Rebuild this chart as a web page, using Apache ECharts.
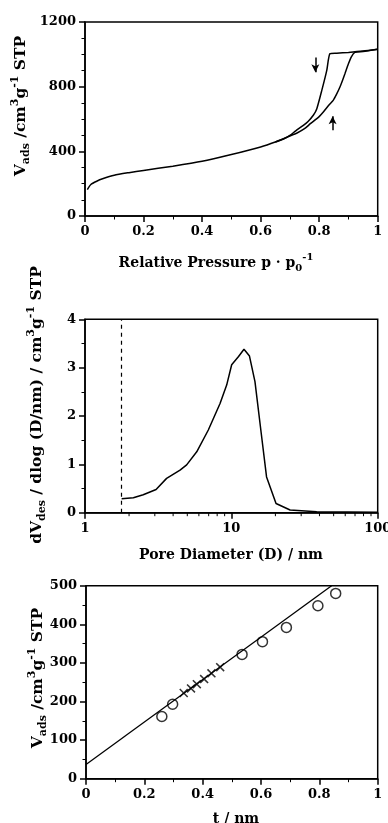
<!DOCTYPE html>
<html>
<head>
<meta charset="utf-8">
<script src="https://cdn.jsdelivr.net/npm/echarts@6/dist/echarts.min.js"></script>
<style>
html,body{margin:0;padding:0;background:#fff;}
#chart{width:388px;height:823px;}
</style>
</head>
<body>
<div id="chart"></div>
<script>
// ---- Panel 1: N2 isotherm (relative pressure, V_ads) ----
const adsP = [0.008,0.02,0.04,0.06,0.1,0.15,0.2,0.3,0.4,0.5,0.6,0.65,0.7,0.723,0.75,0.77,0.8,0.815,0.835,0.848,0.86,0.871,0.88,0.888,0.9,0.91,0.922,0.95,1.0];
const adsV = [163,195,215,230,252,268,282,308,338,380,427,458,495,512,540,571,615,645,690,715,755,798,840,880,942,985,1012,1017,1031];
const desP = [1.0,0.95,0.9,0.86,0.837,0.826,0.809,0.792,0.78,0.762,0.746,0.72,0.7,0.68,0.65];
const desV = [1031,1020,1012,1007,1004,901,777,664,623,585,561,527,499,478,458];
const arrowDown = {p:0.787, from:981, to:889};
const arrowUp = {p:0.846, from:530, to:617};
const p1XTicks = {min:0, max:1, interval:0.2};
const p1YTicks = {min:0, max:1200, interval:400};

// ---- Panel 2: pore size distribution ----
const poreD = [1.78,2.14,2.5,3.06,3.61,4.46,4.95,5.8,6.96,8.37,9.29,10.05,11.2,12.2,13.3,14.5,15.9,17.4,20.2,25.2,38.3,100];
const poreDV = [0.29,0.31,0.37,0.48,0.71,0.88,0.99,1.26,1.71,2.26,2.64,3.06,3.23,3.38,3.24,2.71,1.71,0.74,0.19,0.055,0.02,0.01];
const dashedLineD = 1.78;
const logMinorTickValues = [2,3,4,5,6,7,8,9,20,30,40,50,60,70,80,90];
const p2YTicks = {min:0, max:4, interval:1};

// ---- Panel 3: t-plot ----
const circleT = [0.26,0.297,0.535,0.605,0.687,0.795,0.856];
const circleV = [161,193,322,355,392,448,480];
const crossT = [0.335,0.36,0.38,0.405,0.43,0.46];
const crossV = [222,234,245,258,273,289];
const fitT = [0,0.842];
const fitV = [37,500];
const p3XTicks = {min:0, max:1, interval:0.2};
const p3YTicks = {min:0, max:500, interval:100};

const zip = (a,b) => a.map((v,i)=>[v,b[i]]);
const FONT = 'DejaVu Serif';
const BLACK = '#000';

function axisBase(minorSplit){
  return {
    axisLine:{show:true,onZero:false,lineStyle:{color:BLACK,width:1.5}},
    axisTick:{show:true,inside:false,length:6,lineStyle:{color:BLACK,width:1.5}},
    minorTick:{show:minorSplit>0,splitNumber:minorSplit||2,length:3.5,lineStyle:{color:BLACK,width:1}},
    splitLine:{show:false},
    minorSplitLine:{show:false},
    axisLabel:{color:BLACK,fontFamily:FONT,fontWeight:'bold',fontSize:13,margin:9,
      formatter:function(v){return String(+v.toFixed(6));}}
  };
}

const rich = {
  m:{fontFamily:FONT,fontWeight:'bold',fontSize:14,lineHeight:16,verticalAlign:'middle',color:BLACK},
  sub:{fontFamily:FONT,fontWeight:'bold',fontSize:10,lineHeight:10,padding:[10,0,0,0],verticalAlign:'middle',color:BLACK},
  sup:{fontFamily:FONT,fontWeight:'bold',fontSize:10,lineHeight:10,padding:[0,0,11,0],verticalAlign:'middle',color:BLACK},
  M:{fontFamily:FONT,fontWeight:'bold',fontSize:15.5,lineHeight:17,verticalAlign:'middle',color:BLACK},
  S:{fontFamily:FONT,fontWeight:'bold',fontSize:11,lineHeight:11,padding:[11,0,0,0],verticalAlign:'middle',color:BLACK},
  P:{fontFamily:FONT,fontWeight:'bold',fontSize:11,lineHeight:11,padding:[0,0,12,0],verticalAlign:'middle',color:BLACK}
};
function nameText(x,y,text,rot){
  return {type:'text',x:x,y:y,rotation:rot||0,z:100,
    style:{text:text,rich:rich,align:'center',verticalAlign:'middle',fill:BLACK,font:'bold 14px '+FONT}};
}

const chart = echarts.init(document.getElementById('chart'),null,{renderer:'canvas'});
const gridStyle = {show:true,borderColor:BLACK,borderWidth:1.5,backgroundColor:'transparent',containLabel:false,outerBoundsMode:'none'};
const CROSS = 'path://M0,1.2L1.2,0L5,3.8L8.8,0L10,1.2L6.2,5L10,8.8L8.8,10L5,6.2L1.2,10L0,8.8L3.8,5Z';

chart.setOption({
  animation:false,
  backgroundColor:'#fff',
  grid:[
    Object.assign({left:85,top:22,width:292.7,height:194},gridStyle),
    Object.assign({left:85,top:319.3,width:292.7,height:193.4},gridStyle),
    Object.assign({left:86,top:585.7,width:291.7,height:193},gridStyle)
  ],
  xAxis:[
    Object.assign(axisBase(2),{gridIndex:0,type:'value',min:p1XTicks.min,max:p1XTicks.max,interval:p1XTicks.interval}),
    Object.assign(axisBase(0),{gridIndex:1,type:'log',logBase:10,min:1,max:100}),
    Object.assign(axisBase(2),{gridIndex:2,type:'value',min:p3XTicks.min,max:p3XTicks.max,interval:p3XTicks.interval})
  ],
  yAxis:[
    Object.assign(axisBase(4),{gridIndex:0,type:'value',min:p1YTicks.min,max:p1YTicks.max,interval:p1YTicks.interval}),
    Object.assign(axisBase(2),{gridIndex:1,type:'value',min:p2YTicks.min,max:p2YTicks.max,interval:p2YTicks.interval}),
    Object.assign(axisBase(2),{gridIndex:2,type:'value',min:p3YTicks.min,max:p3YTicks.max,interval:p3YTicks.interval})
  ],
  series:[
    {type:'line',xAxisIndex:0,yAxisIndex:0,data:zip(adsP,adsV),showSymbol:false,symbol:'none',
     lineStyle:{color:BLACK,width:1.5},smooth:0.2},
    {type:'line',xAxisIndex:0,yAxisIndex:0,data:zip(desP,desV),showSymbol:false,symbol:'none',
     lineStyle:{color:BLACK,width:1.5},smooth:0.2,
     markLine:{silent:true,symbol:['none','arrow'],symbolSize:[6,8],animation:false,
       lineStyle:{color:BLACK,width:1.5,type:'solid'},label:{show:false},
       data:[
         [{coord:[arrowDown.p,arrowDown.from]},{coord:[arrowDown.p,arrowDown.to]}],
         [{coord:[arrowUp.p,arrowUp.from]},{coord:[arrowUp.p,arrowUp.to]}]
       ]}},
    {type:'line',xAxisIndex:1,yAxisIndex:1,data:zip(poreD,poreDV),showSymbol:false,symbol:'none',
     lineStyle:{color:BLACK,width:1.5},
     markLine:{silent:true,symbol:['none','none'],animation:false,label:{show:false},
       lineStyle:{color:BLACK,width:1.2,type:[4,4]},
       data:[{xAxis:dashedLineD}]}},
    {type:'custom',xAxisIndex:1,yAxisIndex:1,clip:false,silent:true,z:10,
     data:logMinorTickValues.map(v=>[v,p2YTicks.min]),
     renderItem:function(params,api){
       const pt = api.coord([api.value(0),api.value(1)]);
       return {type:'line',shape:{x1:pt[0],y1:pt[1],x2:pt[0],y2:pt[1]+3.5},style:{stroke:BLACK,lineWidth:1}};
     }},
    {type:'line',xAxisIndex:2,yAxisIndex:2,data:zip(fitT,fitV),showSymbol:false,symbol:'none',
     lineStyle:{color:BLACK,width:1.3}},
    {type:'scatter',xAxisIndex:2,yAxisIndex:2,data:zip(circleT,circleV),symbol:'circle',symbolSize:10,
     itemStyle:{color:'transparent',borderColor:BLACK,borderWidth:1.5}},
    {type:'scatter',xAxisIndex:2,yAxisIndex:2,data:zip(crossT,crossV),symbol:CROSS,symbolSize:9,
     itemStyle:{color:BLACK,borderWidth:0}}
  ],
  graphic:[
    nameText(21,106,'{M|V}{S|ads}{M| /cm}{P|3}{M|g}{P|-1}{M| STP}',Math.PI/2),
    nameText(216,263,'{m|Relative Pressure p · p}{sub|0}{sup|-1}'),
    nameText(37,405,'{M|dV}{S|des}{M| / dlog (D/nm) / cm}{P|3}{M|g}{P|-1}{M| STP}',Math.PI/2),
    nameText(231,555,'{m|Pore Diameter (D) / nm}'),
    nameText(38,678,'{M|V}{S|ads}{M| /cm}{P|3}{M|g}{P|-1}{M| STP}',Math.PI/2),
    nameText(236,819,'{m|t / nm}')
  ]
});
</script>
</body>
</html>
